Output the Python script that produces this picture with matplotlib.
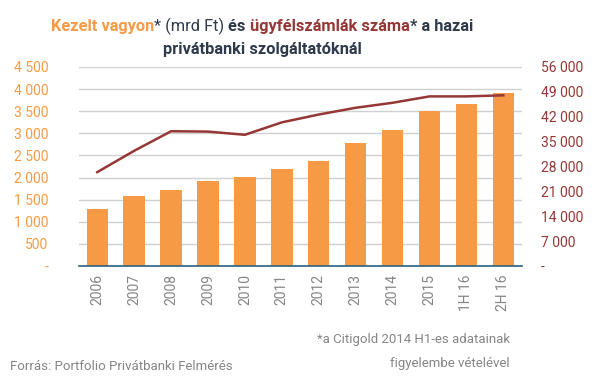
import matplotlib.pyplot as plt
from matplotlib.ticker import FuncFormatter

plt.rcParams['font.family'] = ['Roboto', 'DejaVu Sans']

periods = ['2006', '2007', '2008', '2009', '2010', '2011', '2012', '2013',
           '2014', '2015', '1H 16', '2H 16']
assets = [1290, 1580, 1720, 1920, 2010, 2200, 2380, 2790, 3080, 3510, 3670, 3900]
accounts = [26400, 32400, 37900, 37800, 36900, 40400, 42600, 44500, 45900,
            47700, 47700, 48000]

orange = '#F79A45'
darkred = '#953735'
navy = '#2E3A4B'
grey = '#858585'


def spaced(v, pos):
    if v == 0:
        return '-'
    return f'{int(v):,}'.replace(',', ' ')


fig = plt.figure(figsize=(6.11, 3.80), dpi=100)
ax = fig.add_axes([0.129, 0.30, 0.725, 0.524])
x = range(len(periods))
ax.bar(x, assets, width=0.58, color=orange, zorder=2)
ax.set_ylim(0, 4500)
ax.set_yticks(range(0, 4501, 500))
ax.yaxis.set_major_formatter(FuncFormatter(spaced))
ax.set_xlim(-0.5, len(periods) - 0.5)
ax.set_xticks(list(x))
ax.set_xticklabels(periods, rotation=90, color=grey, fontsize=10)
ax.grid(axis='y', color='#D0D0D0', linewidth=1, zorder=0)
for s in ['top', 'left', 'right']:
    ax.spines[s].set_visible(False)
ax.spines['bottom'].set_color('#2A6180')
ax.spines['bottom'].set_linewidth(1.2)
ax.tick_params(axis='y', length=0, labelcolor=orange, labelsize=10, pad=22)
ax.tick_params(axis='x', length=0, pad=6)

ax2 = ax.twinx()
ax2.plot(list(x), accounts, color=darkred, linewidth=1.8, zorder=3)
ax2.set_ylim(0, 56000)
ax2.set_yticks(range(0, 56001, 7000))
ax2.yaxis.set_major_formatter(FuncFormatter(spaced))
ax2.tick_params(axis='y', length=0, labelcolor=darkred, labelsize=10, pad=13.5)
for s in ax2.spines.values():
    s.set_visible(False)

# title made of coloured pieces
line1 = [('Kezelt vagyon', orange, 'bold'), ('* (mrd Ft) ', navy, 'normal'),
         ('és ', navy, 'bold'), ('ügyfélszámlák száma', darkred, 'bold'),
         ('* a hazai', navy, 'bold')]
fs = 11.8
fig.canvas.draw()
r = fig.canvas.get_renderer()
pieces = []
for txt, c, w in line1:
    t = fig.text(0, 0, txt, color=c, fontweight=w, fontsize=fs, va='baseline')
    pieces.append((t, t.get_window_extent(r).width))
total = sum(w for _, w in pieces)
xpos = 262 - total / 2
for t, w in pieces:
    t.set_position((xpos / 611, 1 - 31 / 380))
    xpos += w
fig.text(262 / 611, 1 - 54 / 380, 'privátbanki szolgáltatóknál', color=navy,
         fontweight='bold', fontsize=fs, ha='center', va='baseline')

fig.text(10 / 611, 10 / 380, 'Forrás: Portfolio Privátbanki Felmérés', color=grey,
         fontsize=9.5, va='baseline')
fig.text(510 / 611, 37 / 380, '*a Citigold 2014 H1-es adatainak', color=grey,
         fontsize=9.5, ha='right', va='baseline')
fig.text(510 / 611, 13 / 380, 'figyelembe vételével', color=grey,
         fontsize=9.5, ha='right', va='baseline')

fig.savefig('out.png', dpi=100)
